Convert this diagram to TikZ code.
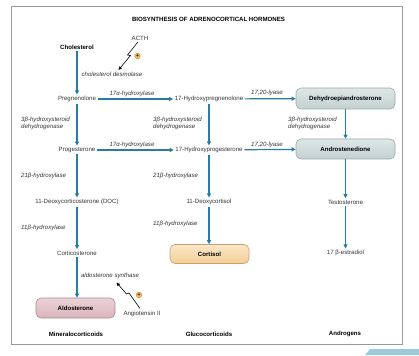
\documentclass[tikz,border=0pt]{standalone}
\usepackage{fontspec}
\setmainfont{Liberation Sans}
\usetikzlibrary{arrows.meta}
\definecolor{arrowblue}{HTML}{2A7CA3}
\definecolor{framegray}{HTML}{999999}
\definecolor{tabblue}{HTML}{9DCADB}
\definecolor{greytop}{HTML}{DEE7E7}
\definecolor{greybot}{HTML}{C3D1D1}
\definecolor{greyline}{HTML}{9AA8A8}
\definecolor{ortop}{HTML}{FBE7C8}
\definecolor{orbot}{HTML}{F4CE98}
\definecolor{orline}{HTML}{C9A06A}
\definecolor{pktop}{HTML}{EBD3D7}
\definecolor{pkbot}{HTML}{DAB5BB}
\definecolor{pkline}{HTML}{A88A8F}
\definecolor{plusfill}{HTML}{F2BE6A}
\definecolor{plusline}{HTML}{C88A30}
\definecolor{txt}{HTML}{333333}
\begin{document}
\begin{tikzpicture}[x=1pt,y=-1pt,
  every node/.style={font=\fontsize{6.1}{7}\selectfont, text=txt, inner sep=1.5pt},
  bcmp/.style={font=\fontsize{6.1}{7}\selectfont\bfseries, text=black},
  enz/.style={font=\fontsize{6.1}{7}\selectfont\itshape, anchor=west, align=left},
  enzc/.style={font=\fontsize{6.1}{7}\selectfont\itshape},
  hbox/.style={draw, rounded corners=5pt, line width=0.6pt, font=\fontsize{6.1}{7}\selectfont\bfseries, text=black, inner sep=0pt},
  flow/.style={draw=arrowblue, line width=1.2pt, -{Triangle[length=4pt,width=4pt]}},
  bolt/.style={draw=black, line width=0.6pt, -{Triangle[length=3.5pt,width=3pt]}},
  plus/.style={circle, draw=plusline, fill=plusfill, line width=0.5pt, minimum size=5.5pt, inner sep=0pt, font=\fontsize{5}{5}\selectfont\bfseries, text=black},
  grp/.style={font=\fontsize{6.1}{7}\selectfont\bfseries, text=black}
]
\useasboundingbox (0,0) rectangle (419,355);
\draw[framegray, line width=0.6pt] (11,6) rectangle (402.5,344);
\fill[tabblue] (365,355) -- (370,349) -- (419,349) -- (419,355) -- cycle;

\node[bcmp] (title) at (208.5,19) {BIOSYNTHESIS OF ADRENOCORTICAL HORMONES};

% compounds
\node[bcmp] (chol) at (77,47) {Cholesterol};
\node (acth) at (140,38) {ACTH};
\node[enzc] (desm) at (112,74) {cholesterol desmolase};
\node (preg) at (77,99) {Pregnenolone};
\node (hpreg) at (209,99) {17-Hydroxypregnenolone};
\node[hbox, top color=greytop, bottom color=greybot, draw=greyline, minimum width=99pt, minimum height=21pt] (dhea) at (345.5,98.5) {Dehydroepiandrosterone};
\node (prog) at (77,150) {Progesterone};
\node (hprog) at (209,150) {17-Hydroxyprogesterone};
\node[hbox, top color=greytop, bottom color=greybot, draw=greyline, minimum width=99pt, minimum height=20pt] (andro) at (345.5,149) {Androstenedione};
\node (doc) at (77,202) {11-Deoxycorticosterone (DOC)};
\node (hcort) at (209,202) {11-Deoxycortisol};
\node (testo) at (345.5,202) {Testosterone};
\node (cortico) at (77,253) {Corticosterone};
\node[hbox, top color=ortop, bottom color=orbot, draw=orline, minimum width=79pt, minimum height=19pt] (cortisol) at (209.5,254) {Cortisol};
\node (estra) at (345.5,253) {17 β-estradiol};
\node[enzc] (aldsyn) at (110,276) {aldosterone synthase};
\node[hbox, top color=pktop, bottom color=pkbot, draw=pkline, minimum width=79pt, minimum height=20pt] (aldo) at (75.5,308) {Aldosterone};
\node (angio) at (142,314) {Angiotensin II};

% enzyme labels
\node[enz] (e1) at (19.5,123.5) {3β-hydroxysteroid\\dehydrogenase};
\node[enz] (e2) at (151.5,123.5) {3β-hydroxysteroid\\dehydrogenase};
\node[enz] (e3) at (286.5,123.5) {3β-hydroxysteroid\\dehydrogenase};
\node[enz] (e4) at (19.5,176) {21β-hydroxylase};
\node[enz] (e5) at (151.5,176) {21β-hydroxylase};
\node[enz] (e6) at (19.5,228) {11β-hydroxylase};
\node[enz] (e7) at (151.5,224) {11β-hydroxylase};
\node[enzc] (e8) at (132,93.5) {17α-hydroxylase};
\node[enzc] (e9) at (267,93) {17,20-lyase};
\node[enzc] (e10) at (132,144.5) {17α-hydroxylase};
\node[enzc] (e11) at (267,144.5) {17,20-lyase};

% group labels
\node[grp] (g1) at (76,334) {Mineralocorticoids};
\node[grp] (g2) at (209,334) {Glucocorticoids};
\node[grp] (g3) at (345,334) {Androgens};

% flows
\draw[flow] (chol) -- (preg);
\draw[flow] (preg) -- (prog);
\draw[flow] (prog) -- (doc);
\draw[flow] (doc) -- (cortico);
\draw[flow] (cortico) -- (aldo.north -| cortico);
\draw[flow] (hpreg) -- (hprog);
\draw[flow] (hprog) -- (hcort);
\draw[flow] (hcort.south) -- (hcort.south |- cortisol.north);
\draw[flow] (dhea) -- (andro);
\draw[flow] (andro) -- (testo);
\draw[flow] (testo) -- (estra);
\draw[flow] (preg) -- (hpreg);
\draw[flow] (hpreg) -- (dhea);
\draw[flow] (prog) -- (hprog);
\draw[flow] (hprog) -- (andro);

% stimulation bolts
\coordinate (t1) at (118.5,70);
\draw[bolt] (acth.south) ++(-2,0) -- (127.5,55) -- (130.5,55.5) -- (t1);
\node[plus] (p1) at (137.5,56) {+};
\coordinate (t2) at (116.5,282.5);
\draw[bolt] (angio.north) ++(-2,-1) -- (129,293) -- (126.5,294) -- (t2);
\node[plus] (p2) at (139,295) {+};
\end{tikzpicture}
\end{document}
